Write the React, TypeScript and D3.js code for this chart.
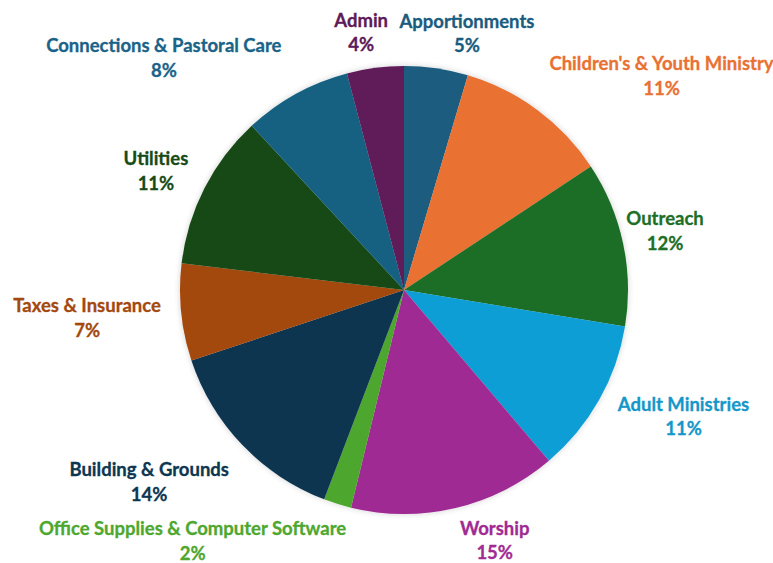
import { useMemo } from "react";
import * as d3 from "d3";

// budget categories, clockwise from 12 o'clock
const categories = [
  "Apportionments",
  "Children's & Youth Ministry",
  "Outreach",
  "Adult Ministries",
  "Worship",
  "Office Supplies & Computer Software",
  "Building & Grounds",
  "Taxes & Insurance",
  "Utilities",
  "Connections & Pastoral Care",
  "Admin",
];

// share of budget (%)
const shares = [4.6, 11.1, 11.9, 11.2, 15.0, 2.0, 14.1, 7.0, 11.2, 7.8, 4.1];

const sliceColors = [
  "#1a5c7e", "#e97132", "#1d6e27", "#0f9ed5", "#a02b93", "#4ea72e",
  "#0d3650", "#a3490f", "#164a17", "#156082", "#5e1a58",
];

const labelColors = [
  "#1a5c7e", "#e97132", "#1d6e27", "#1597c9", "#a02b93", "#4ea72e",
  "#0d3650", "#a3490f", "#164a17", "#1a6388", "#5e1a58",
];

// label placement: angle shift (deg) from slice middle, distance from centre (px)
const labelShift = [5.4, 13.5, -1, -5.5, -6.7, 23, 7, 1, -1, -17, -2];
const labelDist = [266, 336, 268, 306, 265, 327, 318, 318, 276, 335, 263];

const W = 773;
const H = 563;
const CX = 404;
const CY = 290;
const R = 224;
const FS = 18.5;

export default function App() {
  const slices = useMemo(() => {
    const pie = d3.pie<number>().value((d) => d).sort(null);
    return pie(shares);
  }, []);

  const arc = d3.arc<d3.PieArcDatum<number>>().innerRadius(0).outerRadius(R);
  const total = d3.sum(shares);

  return (
    <svg
      width={W}
      height={H}
      style={{ position: "absolute", left: 0, top: 0, background: "#fff" }}
      fontFamily="Lato, 'Open Sans', sans-serif"
    >
      <defs>
        <filter id="glow" x="-20%" y="-20%" width="140%" height="140%">
          <feGaussianBlur in="SourceAlpha" stdDeviation="3" />
          <feComponentTransfer>
            <feFuncA type="linear" slope="0.18" />
          </feComponentTransfer>
          <feMerge>
            <feMergeNode />
            <feMergeNode in="SourceGraphic" />
          </feMerge>
        </filter>
      </defs>
      <g transform={`translate(${CX},${CY})`}>
        <g filter="url(#glow)">
          {slices.map((s, i) => (
            <path key={categories[i]} d={arc(s) || ""} fill={sliceColors[i]} />
          ))}
        </g>
        {slices.map((s, i) => {
          const mid = (s.startAngle + s.endAngle) / 2 + (labelShift[i] * Math.PI) / 180;
          const x = Math.sin(mid) * labelDist[i];
          const y = -Math.cos(mid) * labelDist[i];
          const pct = Math.round((s.data / total) * 100);
          return (
            <text
              key={categories[i]}
              textAnchor="middle"
              fontSize={FS}
              fontWeight={700}
              fill={labelColors[i]}
              stroke={labelColors[i]}
              strokeWidth={0.3}
            >
              <tspan x={x} y={y - 4}>{categories[i]}</tspan>
              <tspan x={x} y={y + 20.5}>{pct}%</tspan>
            </text>
          );
        })}
      </g>
    </svg>
  );
}
